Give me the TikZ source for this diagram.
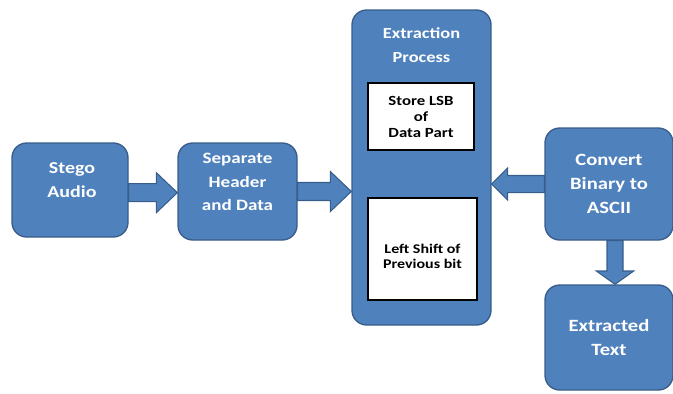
\documentclass[tikz,border=0pt]{standalone}
\usepackage{fontspec}
\setmainfont{Carlito}[FakeStretch=1.2]
\usetikzlibrary{calc}
\definecolor{blockblue}{RGB}{79,129,189}
\definecolor{blockedge}{RGB}{56,93,138}

\begin{document}
\begin{tikzpicture}[x=0.75pt, y=-0.75pt,
	block/.style={draw=blockedge, line width=1pt, fill=blockblue, rounded corners=11pt, inner sep=0pt},
	whitetext/.style={text=white, align=center, font=\bfseries\fontsize{12.5}{18.5}\selectfont},
	innerbox/.style={draw=black, line width=2pt, fill=white, align=center, inner sep=0pt, font=\bfseries\fontsize{10.5}{12}\selectfont},
	barrow/.style={draw=blockedge, line width=0.8pt, fill=blockblue, line join=miter}]

	\useasboundingbox (0,0) rectangle (673,393);

	% blocks
	\node[block, minimum width=87pt, minimum height=70.5pt] (stego) at (70,190) {};
	\node[whitetext] (stegotxt) at (72,180) {Stego\\Audio};
	\node[block, minimum width=89.25pt, minimum height=72.75pt] (sep) at (237.5,191.5) {};
	\node[whitetext, font=\bfseries\fontsize{11.9}{17.6}\selectfont] (septxt) at (237.5,182) {Separate\\Header\\and Data};
	\node[block, minimum width=104.25pt, minimum height=236.25pt] (ext) at (421.5,167.5) {};
	\node[whitetext, font=\bfseries\fontsize{11.5}{18}\selectfont] (exttxt) at (421.5,45) {Extraction\\Process};
	\node[innerbox, minimum width=79.5pt, minimum height=50.25pt] (lsb) at (421,116.5) {Store LSB\\of\\Data Part};
	\node[innerbox, minimum width=81.75pt, minimum height=76.5pt] (shift) at (422.5,249) {};
	\node[font=\bfseries\fontsize{10}{11.25}\selectfont, align=center] (shifttxt) at (422.5,256) {Left Shift of\\Previous bit};
	\node[block, whitetext, minimum width=96pt, minimum height=84pt, font=\bfseries\fontsize{12.9}{18}\selectfont] (conv) at (609,184) {Convert\\Binary to\\ASCII};
	\node[block, whitetext, minimum width=96pt, minimum height=78.75pt, font=\bfseries\fontsize{12.9}{18}\selectfont] (out) at (609,337.5) {Extracted\\Text};

	% block arrows
	\draw[barrow] let \p1=([yshift=-2pt]stego.east), \p2=(sep.west) in
		(\x1,\y1+6.75pt) -- (\x2-15.75pt,\y1+6.75pt) -- (\x2-15.75pt,\y1+15pt) -- (\x2,\y1)
		-- (\x2-15.75pt,\y1-15pt) -- (\x2-15.75pt,\y1-6.75pt) -- (\x1,\y1-6.75pt) -- cycle;
	\draw[barrow] let \p1=(sep.east), \p2=(ext.west) in
		(\x1,\y1+6.75pt) -- (\x2-15.75pt,\y1+6.75pt) -- (\x2-15.75pt,\y1+15pt) -- (\x2,\y1)
		-- (\x2-15.75pt,\y1-15pt) -- (\x2-15.75pt,\y1-6.75pt) -- (\x1,\y1-6.75pt) -- cycle;
	\draw[barrow] let \p1=(conv.west), \p2=(ext.east) in
		(\x1,\y1+6.4pt) -- (\x2+12pt,\y1+6.4pt) -- (\x2+12pt,\y1+12pt) -- (\x2,\y1)
		-- (\x2+12pt,\y1-12pt) -- (\x2+12pt,\y1-6.4pt) -- (\x1,\y1-6.4pt) -- cycle;
	\draw[barrow] let \p1=([xshift=4.5pt]conv.south), \p2=([xshift=4.5pt]out.north) in
		(\x1-6pt,\y1) -- (\x1-6pt,\y2+10pt) -- (\x1-14pt,\y2+10pt) -- (\x1,\y2)
		-- (\x1+14pt,\y2+10pt) -- (\x1+6pt,\y2+10pt) -- (\x1+6pt,\y1) -- cycle;

\end{tikzpicture}
\end{document}
